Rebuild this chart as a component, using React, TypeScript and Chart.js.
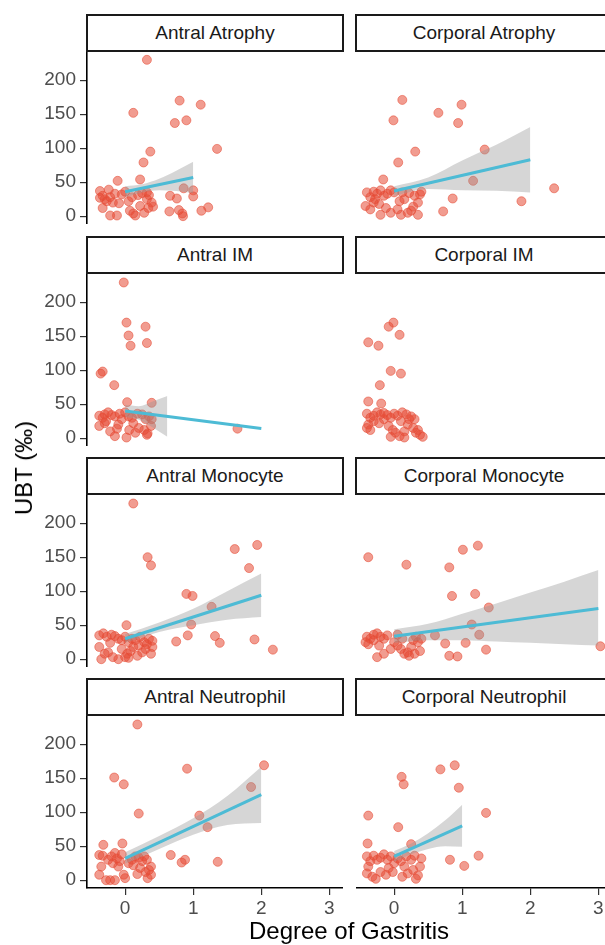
import React, { useEffect, useRef } from "react";
import { Chart, registerables } from "chart.js";

Chart.register(...registerables);

// ---------- data ----------
const Y_TICKS = [0, 50, 100, 150, 200];
const X_TICKS = [0, 1, 2, 3];
const Y_RANGE = [-11.5, 241.5];
const X_RANGE = [-0.56, 3.2];
const X_TITLE = "Degree of Gastritis";
const Y_TITLE = "UBT (‰)";

const ANTRAL_ATROPHY_POINTS = [
  [0.32, 230], [0.12, 152], [0.8, 170], [1.11, 164], [0.73, 137], [0.9, 141], [1.35, 99], [0.37, 95], [0.27, 79],
  [-0.11, 52], [0.22, 54], [0.66, 30], [0.76, 26], [1.0, 38], [1.0, 29], [0.86, 41], [0.65, 7], [0.79, 9],
  [0.84, 4], [0.85, 0], [1.12, 8], [1.22, 13], [-0.37, 37], [-0.24, 39], [-0.37, 27], [-0.3, 25], [-0.27, 22],
  [-0.33, 30], [-0.22, 28], [-0.09, 19], [-0.33, 12], [-0.22, 1], [-0.12, 1], [-0.15, 33], [-0.05, 32], [0.05, 22],
  [0.07, 8], [0.12, 4], [0.15, 1], [0.22, 15], [0.32, 25], [0.39, 20], [0.41, 14], [0.34, 12], [0.32, 35],
  [0.25, 34], [0.35, 31], [0.19, 31], [0.0, 36], [-0.18, 20], [0.1, 28], [0.28, 5],
];
const ANTRAL_ATROPHY_FIT_X = [0, 1];
const ANTRAL_ATROPHY_FIT_Y = [36, 57];
const ANTRAL_ATROPHY_BAND_X = [0, 0.25, 0.5, 0.75, 1];
const ANTRAL_ATROPHY_BAND_LO = [28, 35, 38, 37, 34];
const ANTRAL_ATROPHY_BAND_HI = [44, 47, 55, 67, 80];

const CORPORAL_ATROPHY_POINTS = [
  [0.12, 171], [-0.01, 141], [0.65, 152], [0.99, 164], [0.94, 137], [0.31, 95], [0.06, 79], [1.33, 98],
  [-0.16, 54], [1.16, 52], [2.35, 41], [1.87, 22], [0.86, 26], [0.72, 7], [-0.4, 35], [-0.35, 28], [-0.3, 36],
  [-0.25, 33], [-0.2, 38], [-0.15, 30], [-0.1, 33], [-0.05, 38], [0, 35], [-0.42, 15], [-0.35, 10], [-0.3, 20],
  [-0.22, 18], [-0.12, 12], [-0.05, 5], [0.05, 10], [0.1, 2], [0.2, 5], [0.28, 14], [0.35, 20], [0.38, 32],
  [0.4, 36], [0.3, 30], [0.15, 25], [0.25, 8], [0.35, 2], [0.08, 22], [-0.2, 2], [0.12, 35], [0.22, 34], [-0.28, 25],
];
const CORPORAL_ATROPHY_FIT_X = [0, 2];
const CORPORAL_ATROPHY_FIT_Y = [37, 83];
const CORPORAL_ATROPHY_BAND_X = [0, 0.5, 1, 1.5, 2];
const CORPORAL_ATROPHY_BAND_LO = [30, 40, 38, 37.5, 35];
const CORPORAL_ATROPHY_BAND_HI = [44, 57, 82, 105, 131];

const ANTRAL_IM_POINTS = [
  [-0.02, 229], [0.02, 170], [0.05, 151], [0.08, 136], [0.3, 164], [0.32, 140], [-0.33, 98], [-0.36, 95],
  [-0.16, 78], [0.03, 53], [0.39, 52], [1.65, 14], [-0.38, 33], [-0.33, 30], [-0.3, 35], [-0.25, 38], [-0.2, 34],
  [-0.15, 32], [-0.38, 18], [-0.28, 25], [-0.22, 10], [-0.15, 3], [-0.1, 20], [-0.05, 28], [0.0, 38], [0.02, 1],
  [0.06, 12], [0.1, 30], [0.12, 22], [0.15, 8], [0.2, 15], [0.25, 35], [0.3, 28], [0.32, 5], [0.33, 7], [0.38, 18],
  [0.39, 28], [0.35, 32], [0.18, 36], [-0.08, 36], [0.05, 32], [0.28, 12], [-0.3, 22], [-0.12, 14],
];
const ANTRAL_IM_FIT_X = [0, 2];
const ANTRAL_IM_FIT_Y = [40, 14.3];
const ANTRAL_IM_BAND_X = [0, 0.2, 0.4, 0.62];
const ANTRAL_IM_BAND_LO = [31, 27, 16, 2];
const ANTRAL_IM_BAND_HI = [49, 47, 54, 62];

const CORPORAL_IM_POINTS = [
  [-0.01, 170], [-0.08, 164], [0.08, 152], [-0.38, 141], [-0.23, 136], [-0.05, 99], [0.1, 95], [-0.21, 78],
  [-0.38, 54], [-0.19, 51], [-0.4, 36], [-0.35, 30], [-0.3, 33], [-0.25, 38], [-0.2, 35], [-0.15, 37], [-0.1, 34],
  [-0.05, 30], [0, 36], [0.05, 33], [0.12, 38], [0.18, 35], [0.25, 32], [0.3, 28], [-0.4, 15], [-0.38, 20],
  [-0.3, 25], [-0.22, 22], [-0.15, 28], [-0.08, 18], [-0.02, 12], [0.02, 8], [0.08, 3], [0.15, 10], [0.2, 20],
  [0.28, 15], [0.32, 8], [0.38, 5], [0.42, 2], [-0.35, 12], [0.1, 25], [0.22, 28], [0.35, 12], [-0.05, 2], [0.15, 1],
];

const ANTRAL_MONOCYTE_POINTS = [
  [0.12, 229], [0.33, 150], [0.38, 138], [1.61, 162], [1.94, 168], [1.82, 134], [0.9, 96], [0.99, 93], [1.27, 77],
  [0.97, 51], [0.02, 50], [0.92, 35], [1.32, 34], [1.39, 24], [0.75, 26], [1.9, 29], [2.17, 14], [-0.38, 35],
  [-0.32, 38], [-0.27, 33], [-0.2, 36], [-0.15, 34], [-0.1, 30], [-0.05, 28], [0, 33], [0.05, 25], [0.1, 30],
  [0.15, 28], [0.22, 33], [0.28, 25], [0.35, 30], [0.4, 27], [-0.38, 18], [-0.3, 8], [-0.25, 10], [-0.18, 3],
  [-0.1, 0], [-0.35, 0], [0, 3], [0.03, 8], [0.08, 12], [0.12, 18], [0.18, 5], [0.25, 10], [0.3, 15], [0.38, 8],
  [0.4, 18], [-0.05, 15], [0.2, 20], [0.32, 22], [-0.22, 24], [0.05, 2],
];
const ANTRAL_MONOCYTE_FIT_X = [0, 2];
const ANTRAL_MONOCYTE_FIT_Y = [30, 94];
const ANTRAL_MONOCYTE_BAND_X = [0, 0.5, 1, 1.5, 2];
const ANTRAL_MONOCYTE_BAND_LO = [24, 40, 50, 58, 62];
const ANTRAL_MONOCYTE_BAND_HI = [37, 54, 74, 100, 126];

const CORPORAL_MONOCYTE_POINTS = [
  [-0.38, 150], [0.18, 139], [0.81, 135], [1.01, 161], [1.23, 167], [0.85, 93], [1.19, 96], [1.39, 76],
  [1.14, 51], [1.25, 36], [0.6, 35], [0.75, 23], [1.05, 24], [1.35, 14], [0.81, 5], [0.93, 4], [3.03, 19],
  [0.05, 36], [-0.4, 33], [-0.35, 30], [-0.3, 36], [-0.25, 38], [-0.2, 33], [-0.15, 30], [-0.1, 35], [-0.42, 25],
  [-0.38, 22], [-0.3, 28], [-0.22, 20], [0.05, 20], [0.1, 15], [0.15, 8], [0.2, 10], [0.25, 18], [0.3, 8],
  [0.35, 25], [0.38, 12], [0.32, 33], [0.4, 30], [-0.25, 3], [-0.15, 8], [-0.05, 15], [0.0, 25], [0.12, 30],
  [0.28, 28], [0.22, 5],
];
const CORPORAL_MONOCYTE_FIT_X = [0, 3];
const CORPORAL_MONOCYTE_FIT_Y = [33.6, 74.5];
const CORPORAL_MONOCYTE_BAND_X = [0, 0.5, 1, 1.5, 2, 2.5, 3];
const CORPORAL_MONOCYTE_BAND_LO = [24, 28, 28, 26, 24, 22, 20];
const CORPORAL_MONOCYTE_BAND_HI = [44, 52, 67, 82, 98, 114, 131];

const ANTRAL_NEUTROPHIL_POINTS = [
  [0.18, 229], [-0.16, 151], [-0.02, 141], [0.2, 98], [0.91, 164], [2.04, 169], [1.85, 137], [1.09, 95],
  [1.21, 78], [0.67, 37], [0.88, 30], [0.83, 26], [1.36, 27], [-0.32, 52], [-0.04, 54], [-0.38, 37], [-0.33, 36],
  [-0.25, 30], [-0.2, 35], [-0.15, 40], [-0.12, 32], [-0.08, 28], [-0.05, 38], [-0.35, 20], [-0.38, 8], [-0.28, 0],
  [-0.22, 0], [-0.15, 0], [-0.02, 8], [0.0, 3], [0.05, 25], [0.1, 30], [0.15, 35], [0.18, 9], [0.22, 18],
  [0.25, 28], [0.28, 35], [0.32, 30], [0.35, 15], [0.38, 20], [0.38, 8], [0.33, 3], [0.3, 12], [0.12, 22],
  [-0.18, 25], [-0.1, 20], [0.2, 33],
];
const ANTRAL_NEUTROPHIL_FIT_X = [0, 2];
const ANTRAL_NEUTROPHIL_FIT_Y = [32, 126];
const ANTRAL_NEUTROPHIL_BAND_X = [0, 0.5, 1, 1.5, 2];
const ANTRAL_NEUTROPHIL_BAND_LO = [24, 46, 67, 81, 84];
const ANTRAL_NEUTROPHIL_BAND_HI = [41, 65, 91, 124, 167];

const CORPORAL_NEUTROPHIL_POINTS = [
  [0.11, 152], [0.14, 141], [0.68, 163], [0.89, 169], [0.95, 136], [1.35, 99], [-0.38, 95], [0.06, 78],
  [-0.39, 54], [0.25, 53], [0.82, 30], [1.24, 36], [1.03, 21], [-0.4, 35], [-0.35, 28], [-0.3, 36], [-0.25, 30],
  [-0.2, 33], [-0.15, 38], [-0.1, 30], [-0.05, 35], [-0.38, 20], [-0.4, 10], [-0.32, 5], [-0.27, 2], [-0.2, 12],
  [-0.12, 8], [-0.08, 18], [0.0, 25], [0.05, 32], [0.1, 28], [0.15, 20], [0.2, 10], [0.25, 30], [0.28, 15],
  [0.32, 2], [0.35, 7], [0.38, 20], [0.4, 32], [0.3, 36], [0.18, 35], [-0.02, 12], [0.12, 5],
];
const CORPORAL_NEUTROPHIL_FIT_X = [0, 1];
const CORPORAL_NEUTROPHIL_FIT_Y = [35, 80];
const CORPORAL_NEUTROPHIL_BAND_X = [0, 0.25, 0.5, 0.75, 1];
const CORPORAL_NEUTROPHIL_BAND_LO = [27, 38, 46, 50, 49];
const CORPORAL_NEUTROPHIL_BAND_HI = [43, 54, 69, 88, 111];

type Panel = {
  title: string;
  points: number[][];
  fitX?: number[];
  fitY?: number[];
  bandX?: number[];
  bandLo?: number[];
  bandHi?: number[];
};

const PANELS: Panel[] = [
  { title: "Antral Atrophy", points: ANTRAL_ATROPHY_POINTS, fitX: ANTRAL_ATROPHY_FIT_X, fitY: ANTRAL_ATROPHY_FIT_Y, bandX: ANTRAL_ATROPHY_BAND_X, bandLo: ANTRAL_ATROPHY_BAND_LO, bandHi: ANTRAL_ATROPHY_BAND_HI },
  { title: "Corporal Atrophy", points: CORPORAL_ATROPHY_POINTS, fitX: CORPORAL_ATROPHY_FIT_X, fitY: CORPORAL_ATROPHY_FIT_Y, bandX: CORPORAL_ATROPHY_BAND_X, bandLo: CORPORAL_ATROPHY_BAND_LO, bandHi: CORPORAL_ATROPHY_BAND_HI },
  { title: "Antral IM", points: ANTRAL_IM_POINTS, fitX: ANTRAL_IM_FIT_X, fitY: ANTRAL_IM_FIT_Y, bandX: ANTRAL_IM_BAND_X, bandLo: ANTRAL_IM_BAND_LO, bandHi: ANTRAL_IM_BAND_HI },
  { title: "Corporal IM", points: CORPORAL_IM_POINTS },
  { title: "Antral Monocyte", points: ANTRAL_MONOCYTE_POINTS, fitX: ANTRAL_MONOCYTE_FIT_X, fitY: ANTRAL_MONOCYTE_FIT_Y, bandX: ANTRAL_MONOCYTE_BAND_X, bandLo: ANTRAL_MONOCYTE_BAND_LO, bandHi: ANTRAL_MONOCYTE_BAND_HI },
  { title: "Corporal Monocyte", points: CORPORAL_MONOCYTE_POINTS, fitX: CORPORAL_MONOCYTE_FIT_X, fitY: CORPORAL_MONOCYTE_FIT_Y, bandX: CORPORAL_MONOCYTE_BAND_X, bandLo: CORPORAL_MONOCYTE_BAND_LO, bandHi: CORPORAL_MONOCYTE_BAND_HI },
  { title: "Antral Neutrophil", points: ANTRAL_NEUTROPHIL_POINTS, fitX: ANTRAL_NEUTROPHIL_FIT_X, fitY: ANTRAL_NEUTROPHIL_FIT_Y, bandX: ANTRAL_NEUTROPHIL_BAND_X, bandLo: ANTRAL_NEUTROPHIL_BAND_LO, bandHi: ANTRAL_NEUTROPHIL_BAND_HI },
  { title: "Corporal Neutrophil", points: CORPORAL_NEUTROPHIL_POINTS, fitX: CORPORAL_NEUTROPHIL_FIT_X, fitY: CORPORAL_NEUTROPHIL_FIT_Y, bandX: CORPORAL_NEUTROPHIL_BAND_X, bandLo: CORPORAL_NEUTROPHIL_BAND_LO, bandHi: CORPORAL_NEUTROPHIL_BAND_HI },
];

// ---------- style / layout ----------
const FONT = "'Liberation Sans', Arial, Helvetica, sans-serif";
const POINT_COLOR = "rgba(230,75,53,0.55)";
const LINE_COLOR = "#4DBBD5";
const BAND_COLOR = "rgba(153,153,153,0.4)";
const TICK_TEXT = "#4D4D4D";
const ROW_TOPS = [14, 236, 457, 678];
const STRIP_H = 38;
const PANEL_H = 172;
const X_AXIS_H = 36;
const Y_AXIS_W = 87;
const COL_LEFT = [0, 356];
const PANEL_W = 256;

function PanelChart({ panel, row, col }: { panel: Panel; row: number; col: number }) {
  const ref = useRef<HTMLCanvasElement | null>(null);
  const isBottom = row === 3;
  const isLeft = col === 0;
  const width = (isLeft ? Y_AXIS_W : 0) + PANEL_W;
  const height = PANEL_H + (isBottom ? X_AXIS_H : 0);
  const top = ROW_TOPS[row] + STRIP_H;
  const left = COL_LEFT[col];

  useEffect(() => {
    if (!ref.current) return;
    const datasets: any[] = [];
    datasets.push({
      type: "scatter",
      data: panel.points.map(([x, y]) => ({ x, y })),
      backgroundColor: POINT_COLOR,
      borderColor: POINT_COLOR,
      borderWidth: 1,
      pointRadius: 4.5,
      order: 3,
    });
    if (panel.bandX && panel.bandLo && panel.bandHi) {
      datasets.push({
        type: "line",
        data: panel.bandX.map((x, i) => ({ x, y: panel.bandHi![i] })),
        borderColor: "rgba(0,0,0,0)",
        borderWidth: 0,
        pointRadius: 0,
        fill: "+1",
        backgroundColor: BAND_COLOR,
        cubicInterpolationMode: "monotone",
        order: 2,
      });
      datasets.push({
        type: "line",
        data: panel.bandX.map((x, i) => ({ x, y: panel.bandLo![i] })),
        borderColor: "rgba(0,0,0,0)",
        borderWidth: 0,
        pointRadius: 0,
        fill: false,
        cubicInterpolationMode: "monotone",
        order: 2,
      });
    }
    if (panel.fitX && panel.fitY) {
      datasets.push({
        type: "line",
        data: panel.fitX.map((x, i) => ({ x, y: panel.fitY![i] })),
        borderColor: LINE_COLOR,
        borderWidth: 3,
        pointRadius: 0,
        fill: false,
        order: 1,
      });
    }
    const axisCommon = {
      grid: { display: true, drawOnChartArea: false, drawTicks: true, tickLength: 7, color: "#333333", lineWidth: 1.2 },
      border: { display: true, color: "#000000", width: 1.6 },
    };
    const chart = new Chart(ref.current, {
      type: "scatter",
      data: { datasets },
      options: {
        animation: false,
        responsive: false,
        devicePixelRatio: 1,
        events: [],
        layout: { padding: 0, autoPadding: false },
        plugins: { legend: { display: false }, tooltip: { enabled: false } },
        scales: {
          x: {
            type: "linear",
            min: X_RANGE[0],
            max: X_RANGE[1],
            display: isBottom,
            ...axisCommon,
            ticks: { font: { family: FONT, size: 19 }, color: TICK_TEXT, padding: 2, maxRotation: 0, autoSkip: false },
            afterBuildTicks: (s: any) => { s.ticks = X_TICKS.map((v) => ({ value: v })); },
            afterFit: (s: any) => {
              s.height = isBottom ? X_AXIS_H : 0;
              s.paddingLeft = 0; s.paddingRight = 0; s.paddingTop = 0; s.paddingBottom = 0;
            },
          },
          y: {
            type: "linear",
            min: Y_RANGE[0],
            max: Y_RANGE[1],
            display: isLeft,
            ...axisCommon,
            ticks: { font: { family: FONT, size: 19 }, color: TICK_TEXT, padding: 4, autoSkip: false },
            afterBuildTicks: (s: any) => { s.ticks = Y_TICKS.map((v) => ({ value: v })); },
            afterFit: (s: any) => {
              s.width = isLeft ? Y_AXIS_W : 0;
              s.paddingTop = 0; s.paddingBottom = 0; s.paddingLeft = 0; s.paddingRight = 0;
            },
          },
        },
      } as any,
    });
    return () => chart.destroy();
  }, [panel, row, col]);

  return (
    <canvas
      ref={ref}
      width={width}
      height={height}
      style={{ position: "absolute", left, top, width, height, display: "block" }}
    />
  );
}

function Strip({ title, row, col }: { title: string; row: number; col: number }) {
  return (
    <div
      style={{
        position: "absolute",
        left: col === 0 ? 86 : 355,
        top: ROW_TOPS[row],
        width: 258,
        height: STRIP_H,
        boxSizing: "border-box",
        border: "2px solid #1a1a1a",
        background: "#ffffff",
        display: "flex",
        alignItems: "center",
        justifyContent: "center",
        fontFamily: FONT,
        fontSize: 19,
        color: "#1a1a1a",
        whiteSpace: "nowrap",
      }}
    >
      {title}
    </div>
  );
}

export default function App() {
  return (
    <div
      style={{
        position: "absolute",
        left: 0,
        top: 0,
        width: 605,
        height: 945,
        overflow: "hidden",
        background: "#ffffff",
      }}
    >
      {PANELS.map((p, i) => (
        <React.Fragment key={p.title}>
          <Strip title={p.title} row={Math.floor(i / 2)} col={i % 2} />
          <PanelChart panel={p} row={Math.floor(i / 2)} col={i % 2} />
        </React.Fragment>
      ))}
      <div
        style={{
          position: "absolute",
          left: 24,
          top: 468,
          transform: "translate(-50%, -50%) rotate(-90deg)",
          fontFamily: FONT,
          fontSize: 24,
          lineHeight: 1,
          color: "#000000",
          whiteSpace: "nowrap",
        }}
      >
        {Y_TITLE}
      </div>
      <div
        style={{
          position: "absolute",
          left: 349,
          top: 931,
          transform: "translate(-50%, -50%)",
          fontFamily: FONT,
          fontSize: 24,
          lineHeight: 1,
          color: "#000000",
          whiteSpace: "nowrap",
        }}
      >
        {X_TITLE}
      </div>
    </div>
  );
}
